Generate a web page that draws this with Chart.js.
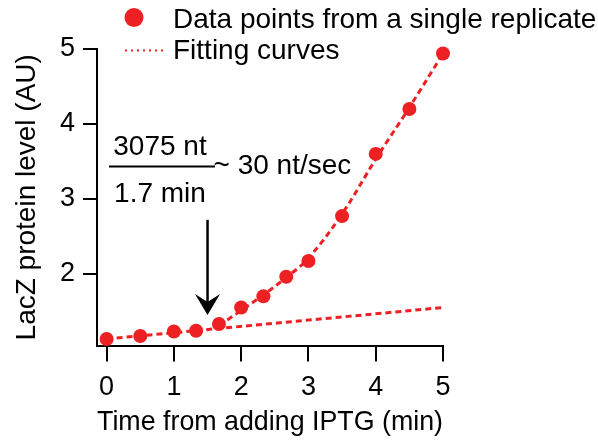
<!DOCTYPE html>
<html>
<head>
<meta charset="utf-8">
<script src="https://cdn.jsdelivr.net/npm/chart.js@4"></script>
<style>
  html, body { margin: 0; padding: 0; background: #ffffff; }
  #wrap { width: 598px; height: 441px; }
</style>
</head>
<body>
<div id="wrap"><canvas id="c" width="598" height="441"></canvas></div>
<script>
// ---- data ----
const timeMin = [0, 0.5, 1, 1.33, 1.67, 2, 2.33, 2.67, 3, 3.5, 4, 4.5, 5];
const lacZLevel = [1.13, 1.17, 1.23, 1.24, 1.33, 1.55, 1.70, 1.96, 2.17, 2.77, 3.60, 4.20, 4.94];

const linearFitX = [0, 5];
const linearFitY = [1.13, 1.55];

const curveFitX = [1.67, 2, 2.33, 2.67, 3, 3.5, 4, 4.5, 5];
const curveFitY = [1.31, 1.51, 1.72, 1.95, 2.21, 2.80, 3.53, 4.22, 4.94];

const xTicks = [0, 1, 2, 3, 4, 5];
const yTicks = [2, 3, 4, 5];

const legendLabels = ['Data points from a single replicate', 'Fitting curves'];
const xTitle = 'Time from adding IPTG (min)';
const yTitle = 'LacZ protein level (AU)';
const rateNumerator = '3075 nt';
const rateDenominator = '1.7 min';
const rateResult = '~ 30 nt/sec';
const arrowX = 1.5, arrowTopY = 2.72, arrowTipY = 1.45;

// ---- styling ----
const RED = '#ed2024';
const FONT = "'Liberation Sans', Arial, sans-serif";
const zip = (xs, ys) => xs.map((x, i) => ({ x: x, y: ys[i] }));

const decorPlugin = {
  id: 'decor',
  afterDraw(chart) {
    const ctx = chart.ctx;
    const xs = chart.scales.x, ys = chart.scales.y;
    ctx.save();
    // legend
    ctx.fillStyle = RED;
    ctx.beginPath();
    ctx.arc(134, 17.5, 9.5, 0, Math.PI * 2);
    ctx.fill();
    ctx.strokeStyle = RED;
    ctx.lineWidth = 2;
    ctx.setLineDash([2, 4]);
    ctx.beginPath();
    ctx.moveTo(125, 50.5);
    ctx.lineTo(163, 50.5);
    ctx.stroke();
    ctx.setLineDash([]);
    ctx.fillStyle = '#000';
    ctx.font = '28px ' + FONT;
    ctx.textAlign = 'left';
    ctx.textBaseline = 'alphabetic';
    ctx.fillText(legendLabels[0], 173, 27.5);
    ctx.fillText(legendLabels[1], 173, 59);

    // rate annotation
    ctx.textAlign = 'center';
    ctx.fillText(rateNumerator, 160, 155);
    ctx.fillText(rateDenominator, 160, 201.5);
    ctx.textAlign = 'left';
    ctx.fillText(rateResult, 213.5, 174);
    ctx.strokeStyle = '#000';
    ctx.lineWidth = 2;
    ctx.beginPath();
    ctx.moveTo(109, 166.5);
    ctx.lineTo(215, 166.5);
    ctx.stroke();

    // arrow
    const ax = xs.getPixelForValue(arrowX);
    const ay0 = ys.getPixelForValue(arrowTopY);
    const ay1 = ys.getPixelForValue(arrowTipY);
    ctx.lineWidth = 2.5;
    ctx.beginPath();
    ctx.moveTo(ax, ay0);
    ctx.lineTo(ax, ay1 - 12);
    ctx.stroke();
    ctx.fillStyle = '#000';
    ctx.beginPath();
    ctx.moveTo(ax, ay1);
    ctx.lineTo(ax - 12.5, ay1 - 21);
    ctx.lineTo(ax, ay1 - 13);
    ctx.lineTo(ax + 12.5, ay1 - 21);
    ctx.closePath();
    ctx.fill();
    ctx.restore();
  }
};

new Chart(document.getElementById('c'), {
  type: 'scatter',
  data: {
    datasets: [
      {
        label: legendLabels[0],
        data: zip(timeMin, lacZLevel),
        showLine: false,
        pointRadius: 7,
        pointHoverRadius: 7,
        pointBackgroundColor: RED,
        pointBorderWidth: 0,
        borderColor: RED,
        clip: false
      },
      {
        label: legendLabels[1],
        data: zip(linearFitX, linearFitY),
        showLine: true,
        borderColor: RED,
        borderWidth: 3,
        borderDash: [6, 4],
        pointRadius: 0,
        fill: false,
        clip: false
      },
      {
        label: legendLabels[1],
        data: zip(curveFitX, curveFitY),
        showLine: true,
        borderColor: RED,
        borderWidth: 3,
        borderDash: [6, 4],
        pointRadius: 0,
        tension: 0.4,
        fill: false,
        clip: false
      }
    ]
  },
  options: {
    responsive: false,
    animation: false,
    devicePixelRatio: 1,
    layout: { padding: { left: 0, right: 155, top: 49, bottom: 0 } },
    plugins: { legend: { display: false }, tooltip: { enabled: false } },
    scales: {
      x: {
        type: 'linear',
        min: -0.143,
        max: 5,
        afterBuildTicks: (s) => { s.ticks = xTicks.map(v => ({ value: v })); },
        afterFit: (s) => { s.height = 95.5; },
        border: { display: true, color: '#000', width: 2 },
        grid: { drawOnChartArea: false, drawTicks: true, tickLength: 16, color: '#000', lineWidth: 2 },
        ticks: { color: '#000', font: { family: FONT, size: 27 }, padding: 10, maxRotation: 0, autoSkip: false },
        title: { display: true, text: xTitle, color: '#000', font: { family: FONT, size: 28 }, padding: { top: 0, bottom: 2 } }
      },
      y: {
        type: 'linear',
        min: 1.043,
        max: 5,
        afterBuildTicks: (s) => { s.ticks = yTicks.map(v => ({ value: v })); },
        afterFit: (s) => { s.width = 97; },
        border: { display: true, color: '#000', width: 2 },
        grid: { drawOnChartArea: false, drawTicks: true, tickLength: 14, color: '#000', lineWidth: 2 },
        ticks: { color: '#000', font: { family: FONT, size: 27 }, padding: 8, autoSkip: false },
        title: { display: true, text: yTitle, color: '#000', font: { family: FONT, size: 28 }, padding: { top: 10, bottom: 0 } }
      }
    }
  },
  plugins: [decorPlugin]
});
</script>
</body>
</html>
